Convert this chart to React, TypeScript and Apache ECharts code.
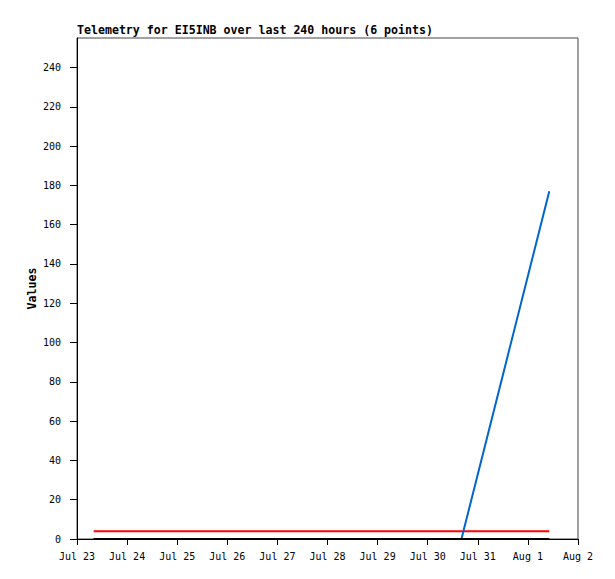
import React, { useEffect, useRef } from "react";
import * as echarts from "echarts";

const DAY = 86400000;
const times = [
  Date.UTC(2024, 6, 23, 8, 0),
  Date.UTC(2024, 6, 25, 10, 0),
  Date.UTC(2024, 6, 27, 12, 0),
  Date.UTC(2024, 6, 29, 6, 0),
  Date.UTC(2024, 6, 30, 16, 10),
  Date.UTC(2024, 7, 1, 10, 15),
];
const blackValues = [0, 0, 0, 0, 0, 0];
const redValues = [4, 4, 4, 4, 4, 4];
const blueValues = [0, 0, 0, 0, 0, 177];
const yTicks = [0, 20, 40, 60, 80, 100, 120, 140, 160, 180, 200, 220, 240];
const xMin = Date.UTC(2024, 6, 23);
const xMax = Date.UTC(2024, 7, 2);
const months = ["Jan", "Feb", "Mar", "Apr", "May", "Jun", "Jul", "Aug", "Sep", "Oct", "Nov", "Dec"];
const title = "Telemetry for EI5INB over last 240 hours (6 points)";

const FONT = "DejaVu Sans Mono";

export default function App() {
  const ref = useRef<HTMLDivElement>(null);
  useEffect(() => {
    if (!ref.current) return;
    const chart = echarts.init(ref.current, null, { renderer: "svg" });
    const pair = (vals: number[]) => times.map((t, i) => [t, vals[i]]);
    chart.setOption({
      animation: false,
      backgroundColor: "#ffffff",
      title: {
        text: title,
        left: 77,
        top: 24,
        padding: 0,
        textStyle: { fontFamily: FONT, fontSize: 11.6, fontWeight: "bold", color: "#000" },
      },
      grid: {
        left: 77,
        right: 37,
        top: 38,
        bottom: 40,
        show: true,
        borderColor: "#444",
        borderWidth: 1,
        backgroundColor: "transparent",
      },
      xAxis: {
        type: "value",
        min: xMin,
        max: xMax,
        interval: DAY,
        axisLine: { show: true, onZero: false, lineStyle: { color: "#000", width: 1 } },
        axisTick: { show: true, length: 6, lineStyle: { color: "#000" } },
        splitLine: { show: false },
        axisLabel: {
          margin: 12,
          fontFamily: FONT,
          fontSize: 10,
          color: "#000",
          formatter: (v: number) => {
            const d = new Date(v);
            return months[d.getUTCMonth()] + " " + d.getUTCDate();
          },
        },
      },
      yAxis: {
        type: "value",
        min: 0,
        max: 255,
        interval: 20,
        name: "Values",
        nameLocation: "middle",
        nameGap: 39,
        nameMoveOverlap: false,
        nameTextStyle: { fontFamily: FONT, fontSize: 11.6, fontWeight: "bold", color: "#000" },
        axisLine: { show: true, lineStyle: { color: "#000", width: 1 } },
        axisTick: { show: true, length: 7, customValues: yTicks, lineStyle: { color: "#000" } },
        splitLine: { show: false },
        axisLabel: {
          margin: 16,
          customValues: yTicks,
          fontFamily: FONT,
          fontSize: 10,
          color: "#000",
        },
      },
      series: [
        {
          type: "line",
          data: pair(redValues),
          showSymbol: false,
          lineStyle: { color: "#ff0000", width: 2 },
          itemStyle: { color: "#ff0000" },
          z: 2,
        },
        {
          type: "line",
          data: pair(blueValues),
          showSymbol: false,
          lineStyle: { color: "#0066cc", width: 2 },
          itemStyle: { color: "#0066cc" },
          z: 3,
        },
        {
          type: "line",
          data: pair(blackValues),
          showSymbol: false,
          lineStyle: { color: "#000000", width: 2 },
          itemStyle: { color: "#000000" },
          z: 4,
        },
      ],
    });
    return () => chart.dispose();
  }, []);
  return (
    <div
      ref={ref}
      style={{ position: "fixed", left: 0, top: 0, width: 615, height: 579, background: "#fff" }}
    />
  );
}
